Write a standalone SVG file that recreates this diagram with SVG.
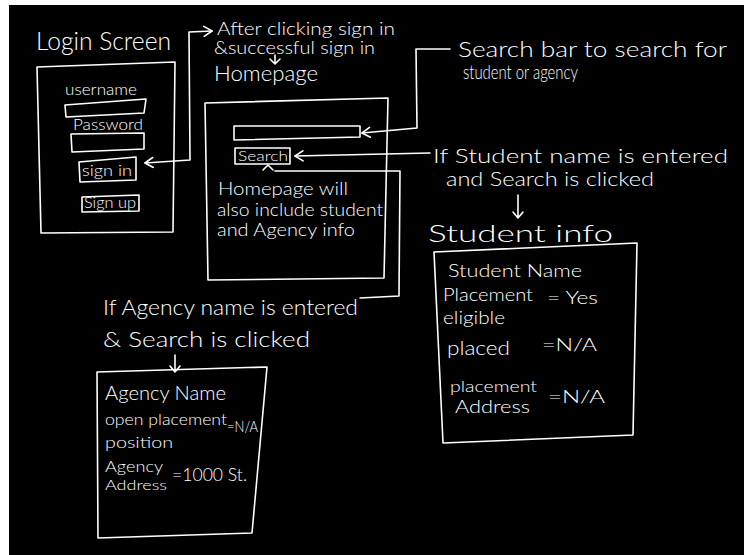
<svg xmlns="http://www.w3.org/2000/svg" width="744" height="555" viewBox="0 0 744 555">
<defs>
<style>
.ln{fill:none;stroke:#fff;stroke-width:1.6;stroke-linejoin:round;stroke-linecap:round}
.t{fill:#fff;font-family:Lato,"Open Sans","Liberation Sans",sans-serif;font-weight:300}
</style>
<marker id="ah" viewBox="0 0 10 12" refX="9" refY="6" markerWidth="10" markerHeight="12" markerUnits="userSpaceOnUse" orient="auto-start-reverse">
<path d="M1,1 L9,6 L1,11" fill="none" stroke="#fff" stroke-width="1.6" stroke-linecap="round" stroke-linejoin="round"/>
</marker>
</defs>
<rect x="0" y="0" width="744" height="555" fill="#fff"/>
<rect x="9" y="5" width="735" height="550" fill="#000"/>

<g id="login-screen">
<text class="t" x="36" y="50" font-size="26" textLength="135" lengthAdjust="spacingAndGlyphs">Login Screen</text>
<path class="ln" d="M37,67 L175,62 L173,232 L41,233 Z"/>
<text class="t" x="65" y="95" font-size="15" textLength="72" lengthAdjust="spacingAndGlyphs">username</text>
<path class="ln" d="M65,105 L146,99 L144,113 L66,117 Z"/>
<text class="t" x="73" y="130" font-size="16" textLength="70" lengthAdjust="spacingAndGlyphs">Password</text>
<path class="ln" d="M71,134 L144,133 L144,149 L72,152 Z"/>
<path class="ln" d="M79,162 L136,157 L136,180 L80,182 Z"/>
<text class="t" x="82" y="176" font-size="16" textLength="50" lengthAdjust="spacingAndGlyphs">sign in</text>
<path class="ln" d="M82,197 L139,195 L139,211 L82,212 Z"/>
<text class="t" x="84" y="208" font-size="16" textLength="52" lengthAdjust="spacingAndGlyphs">Sign up</text>
</g>

<g id="signin-note">
<text class="t" x="217" y="35" font-size="17" textLength="178" lengthAdjust="spacingAndGlyphs">After clicking sign in</text>
<text class="t" x="214" y="54" font-size="17" textLength="161" lengthAdjust="spacingAndGlyphs">&amp;successful sign in</text>
</g>

<g id="homepage">
<text class="t" x="214" y="81" font-size="21" textLength="104" lengthAdjust="spacingAndGlyphs">Homepage</text>
<path class="ln" d="M205,103 L388,98 L384,278 L208,280 Z"/>
<path class="ln" d="M234,126 L360,126 L360,137 L234,140 Z"/>
<path class="ln" d="M235,148 L290,148 L290,164 L235,164 Z"/>
<text class="t" x="238" y="161" font-size="14" textLength="50" lengthAdjust="spacingAndGlyphs">Search</text>
<text class="t" x="218" y="195" font-size="18" textLength="130" lengthAdjust="spacingAndGlyphs">Homepage will</text>
<text class="t" x="217" y="216" font-size="18" textLength="166" lengthAdjust="spacingAndGlyphs">also include student</text>
<text class="t" x="217" y="236" font-size="18" textLength="138" lengthAdjust="spacingAndGlyphs">and Agency info</text>
</g>

<g id="searchbar-note">
<text class="t" x="458" y="57" font-size="21" textLength="269" lengthAdjust="spacingAndGlyphs">Search bar to search for</text>
<text class="t" x="463" y="79" font-size="19" textLength="115" lengthAdjust="spacingAndGlyphs">student or agency</text>
</g>

<g id="student-note">
<text class="t" x="433" y="163" font-size="19" textLength="295" lengthAdjust="spacingAndGlyphs">If Student name is entered</text>
<text class="t" x="446" y="186" font-size="19" textLength="208" lengthAdjust="spacingAndGlyphs">and Search is clicked</text>
</g>

<g id="student-info">
<text class="t" x="428" y="242" font-size="24" textLength="185" lengthAdjust="spacingAndGlyphs">Student info</text>
<path class="ln" d="M434,252 L637,243 L633,435 L443,443 Z"/>
<text class="t" x="448" y="277" font-size="17" textLength="134" lengthAdjust="spacingAndGlyphs">Student Name</text>
<text class="t" x="443" y="301" font-size="17" textLength="90" lengthAdjust="spacingAndGlyphs">Placement</text>
<text class="t" x="547" y="304" font-size="18" textLength="51" lengthAdjust="spacingAndGlyphs">= Yes</text>
<text class="t" x="443" y="324" font-size="17" textLength="62" lengthAdjust="spacingAndGlyphs">eligible</text>
<text class="t" x="447" y="355" font-size="19" textLength="63" lengthAdjust="spacingAndGlyphs">placed</text>
<text class="t" x="542" y="351" font-size="17" textLength="55" lengthAdjust="spacingAndGlyphs">=N/A</text>
<text class="t" x="450" y="392" font-size="16" textLength="87" lengthAdjust="spacingAndGlyphs">placement</text>
<text class="t" x="455" y="413" font-size="17" textLength="75" lengthAdjust="spacingAndGlyphs">Address</text>
<text class="t" x="548" y="403" font-size="18" textLength="57" lengthAdjust="spacingAndGlyphs">=N/A</text>
</g>

<g id="agency-note">
<text class="t" x="103" y="315" font-size="21" textLength="255" lengthAdjust="spacingAndGlyphs">If Agency name is entered</text>
<text class="t" x="103" y="347" font-size="21" textLength="207" lengthAdjust="spacingAndGlyphs">&amp; Search is clicked</text>
</g>

<g id="agency-info">
<path class="ln" d="M97,372 L267,367 L252,533 L98,538 Z"/>
<text class="t" x="105" y="400" font-size="20" textLength="121" lengthAdjust="spacingAndGlyphs">Agency Name</text>
<text class="t" x="105" y="425" font-size="16" textLength="122" lengthAdjust="spacingAndGlyphs">open placement</text>
<text class="t" x="227" y="432" font-size="15" textLength="31" lengthAdjust="spacingAndGlyphs">=N/A</text>
<text class="t" x="105" y="448" font-size="16" textLength="68" lengthAdjust="spacingAndGlyphs">position</text>
<text class="t" x="105" y="472" font-size="16" textLength="58" lengthAdjust="spacingAndGlyphs">Agency</text>
<text class="t" x="105" y="490" font-size="14" textLength="62" lengthAdjust="spacingAndGlyphs">Address</text>
<text class="t" x="172" y="481" font-size="18" textLength="75" lengthAdjust="spacingAndGlyphs">=1000 St.</text>
</g>

<g id="connectors">
<path class="ln" d="M145,163 L190,160 L189,32 L212,31" marker-start="url(#ah)" marker-end="url(#ah)"/>
<path class="ln" d="M275,55 L275,64 M270,59 L275,64 L280,59"/>
<path class="ln" d="M450,49 L416,49 L417,128 L362,133" marker-end="url(#ah)"/>
<path class="ln" d="M430,153 L295,156" marker-end="url(#ah)"/>
<path class="ln" d="M360,298 L399,296 L400,171 L275,171"/>
<path class="ln" d="M263,170 L268,165 L273,170"/>
<path class="ln" d="M518,195 L518,218 M513,212 L518,218 L523,212"/>
<path class="ln" d="M175,355 L175,372 M170,366 L175,372 L180,366"/>
</g>
</svg>
